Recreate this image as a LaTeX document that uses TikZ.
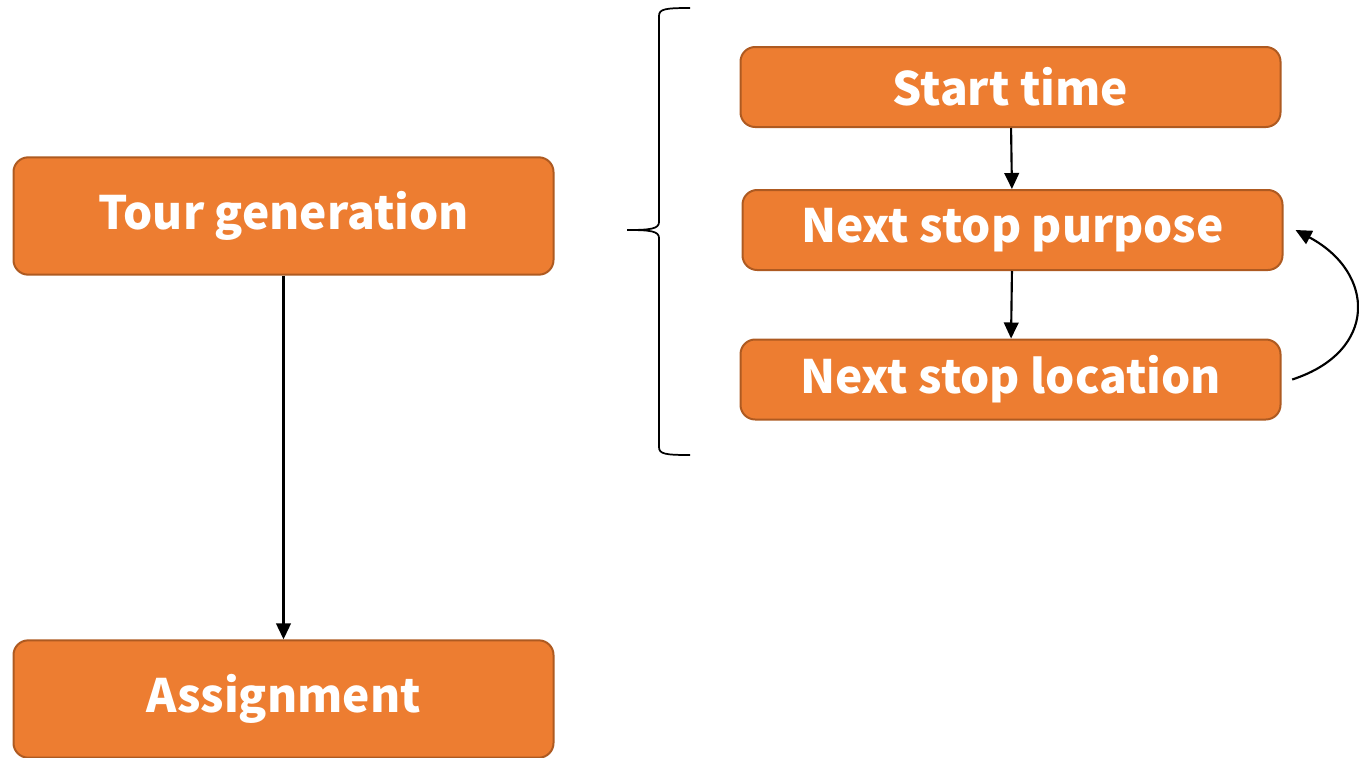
\documentclass[tikz,border=0pt]{standalone}
\usepackage{xcolor}
\usepackage{fontspec}
\usepackage{tikz}
\usetikzlibrary{graphs}
\usetikzlibrary{arrows.meta}
\newfontfamily\boxfont{Noto Sans CJK JP}
\definecolor{boxfill}{HTML}{ED7D31}
\definecolor{boxline}{HTML}{AE5A21}

\begin{document}
\begin{tikzpicture}[x=0.75pt, y=-0.75pt, >={Triangle[length=12pt, width=11pt]},
	main/.style = {draw=boxline, fill=boxfill, line width=1.5pt, rounded corners=11pt,
		minimum width=405pt, minimum height=60pt, text=white,
		font=\boxfont\bfseries\fontsize{34.5}{40}\selectfont}]
							\useasboundingbox (0,0) rectangle (1359,757);
							\node[main, minimum height=88pt] (1) at (283.5,216) {Tour generation};
							\node[main, minimum height=88pt] (2) at (283.5,699) {Assignment};
							\node[main] (3) at (1010.5,87) {Start time};
							\node[main] (4) at (1012.5,230) {Next stop purpose};
							\node[main] (5) at (1010.5,379.5) {Next stop location};
							% brace
							\draw[line width=1.3pt] (690,8) .. controls (665,8) and (659,9) .. (659,16)
								-- (659,222) .. controls (659,229) and (650,230) .. (627,230)
								.. controls (650,230) and (659,231) .. (659,238)
								-- (659,447) .. controls (659,454) and (665,455) .. (690,455);
							\graph[edges={line width=1.6pt}] {
								(1) -> (2);
								(3) -> (4) -> (5);
								};
							\draw[->, line width=1.6pt] ([xshift=8pt]5.east) to[out=18, in=-28, looseness=1.55] ([xshift=9pt]4.east);
							\end{tikzpicture}
\end{document}
